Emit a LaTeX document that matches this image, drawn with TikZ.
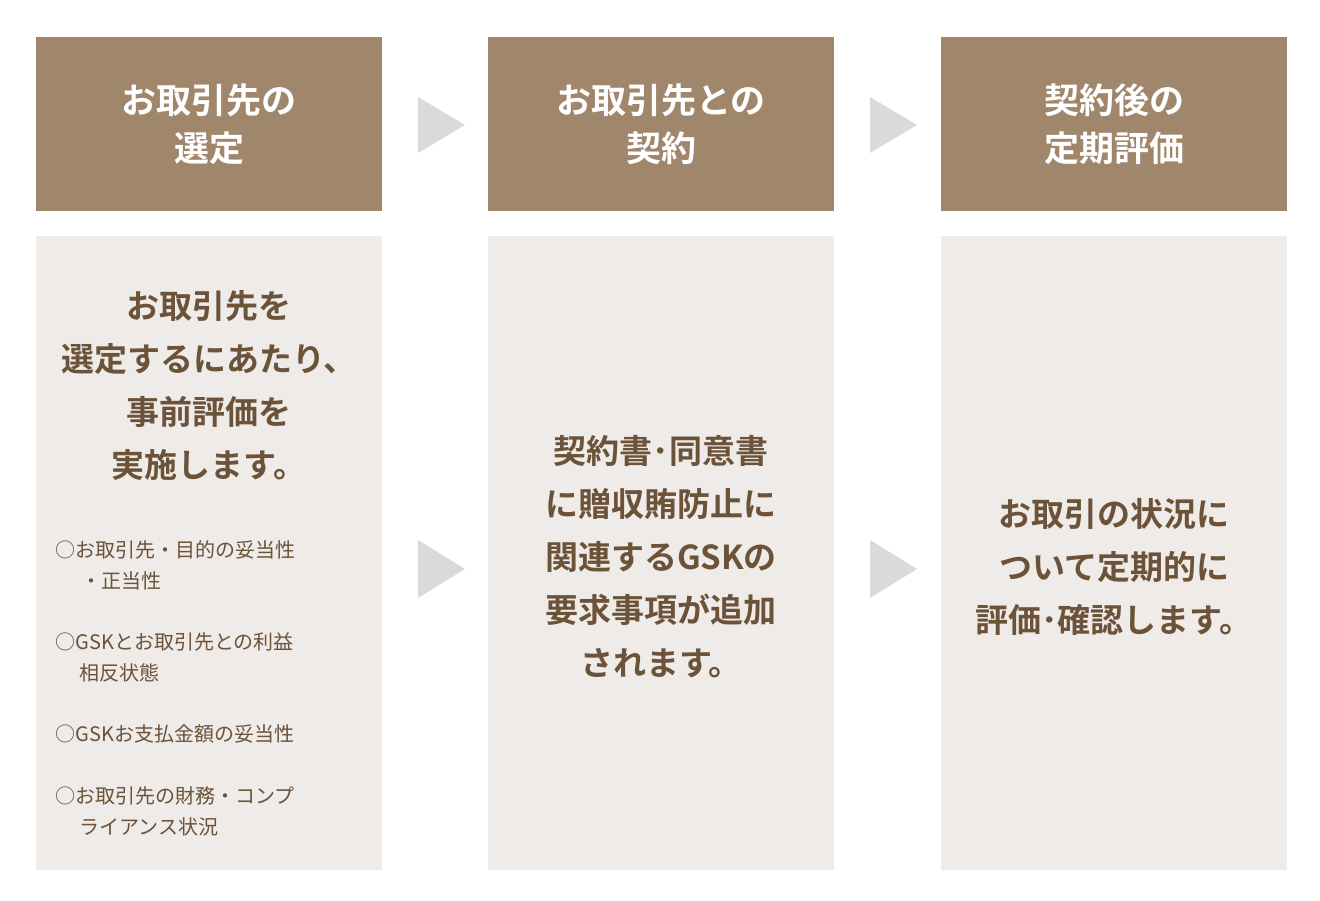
\documentclass[tikz,border=0pt]{standalone}
\usepackage{fontspec}
\newfontfamily\cjk{Noto Sans CJK JP Bold}
\newfontfamily\cjkr{Noto Sans CJK JP}
\definecolor{hdr}{HTML}{A0876C}
\definecolor{bodyc}{HTML}{EFEBE8}
\definecolor{txt}{HTML}{6B5238}
\definecolor{arr}{HTML}{DADADA}
\begin{document}
\begin{tikzpicture}[x=1pt,y=-1pt,
  hbox/.style={fill=hdr,draw=none},
  bbox/.style={fill=bodyc,draw=none},
  htxt/.style={text=white,font=\cjk\fontsize{35}{48}\selectfont,align=center},
  btxt/.style={text=txt,font=\cjk\fontsize{33}{53}\selectfont,align=center},
  ltxt/.style={text=txt,font=\cjkr\fontsize{20}{31}\selectfont,align=left,anchor=west},
  tri/.style={fill=arr,draw=none}]
\useasboundingbox (0,0) rectangle (1320,901);
\foreach \x/\n in {36/a,488/b,941/c}{
  \fill[hbox] (\x,37) rectangle ++(346,174);
  \fill[bbox] (\x,236) rectangle ++(346,634);
}
\node[htxt] (h1) at (209,124) {お取引先の\\選定};
\node[htxt] (h2) at (661,124) {お取引先との\\契約};
\node[htxt] (h3) at (1114,124) {契約後の\\定期評価};
\foreach \x in {418,870}{
  \fill[tri] (\x,97) -- (\x+47,125) -- (\x,153) -- cycle;
  \fill[tri] (\x,540) -- (\x+47,569) -- (\x,598) -- cycle;
}
\node[btxt] (t1) at (209,385) {お取引先を\\選定するにあたり、\\事前評価を\\実施します。};
\node[ltxt] (l1) at (52,565) {○お取引先・目的の妥当性\\\hspace{1.3em}・正当性};
\node[ltxt] (l2) at (52,657) {○GSKとお取引先との利益\\\hspace{1.2em}相反状態};
\node[ltxt] (l3) at (52,734) {○GSKお支払金額の妥当性};
\node[ltxt] (l4) at (52,811) {○お取引先の財務・コンプ\\\hspace{1.2em}ライアンス状況};
\node[btxt] (t2) at (661,557) {契約書･同意書\\に贈収賄防止に\\関連するGSKの\\要求事項が追加\\されます。};
\node[btxt] (t3) at (1114,567) {お取引の状況に\\ついて定期的に\\評価･確認します。};
\end{tikzpicture}
\end{document}
